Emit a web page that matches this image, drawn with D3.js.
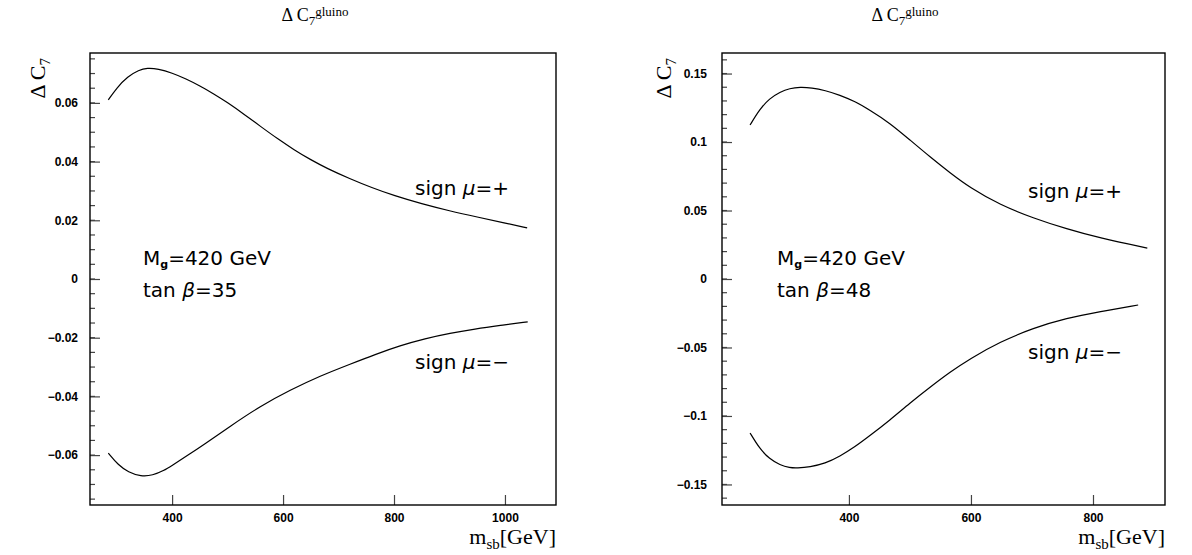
<!DOCTYPE html>
<html><head><meta charset="utf-8">
<script src="https://cdnjs.cloudflare.com/ajax/libs/d3/7.8.5/d3.min.js"></script>
<style>
html,body{margin:0;padding:0;background:#fff;}
svg{display:block;}
.tick text{font-family:"Liberation Sans",Arial,sans-serif;font-weight:bold;font-size:12px;fill:#000;}
</style></head>
<body>
<svg id="chart" width="1192" height="555"></svg>
<script>
// ---- data ----
// Left panel: tan beta = 35
const leftPlusX  = [285, 300, 320, 340, 355, 375, 400, 425, 450, 475, 500, 530, 560, 590, 620, 650, 680, 720, 760, 800, 850, 900, 950, 1000, 1040];
const leftPlusY  = [0.0610, 0.0651, 0.0690, 0.0712, 0.0719, 0.0716, 0.0702, 0.0682, 0.0658, 0.0631, 0.0601, 0.0561, 0.0519, 0.0478, 0.0440, 0.0406, 0.0376, 0.0342, 0.0311, 0.0284, 0.0256, 0.0232, 0.0211, 0.0191, 0.0174];
const leftMinusX = [285, 303, 321, 344, 365, 385, 400, 427, 456, 505, 559, 613, 667, 721, 766, 811, 856, 901, 946, 991, 1041];
const leftMinusY = [-0.0593, -0.0634, -0.0658, -0.0673, -0.0669, -0.0653, -0.0635, -0.0602, -0.0566, -0.0501, -0.0433, -0.0378, -0.0330, -0.0290, -0.0257, -0.0227, -0.0203, -0.0185, -0.0170, -0.0158, -0.0146];
// Right panel: tan beta = 48
const rightPlusX  = [238, 254, 270, 287, 303, 320, 339, 361, 385, 410, 434, 467, 500, 533, 566, 598, 648, 702, 757, 811, 889];
const rightPlusY  = [0.1124, 0.1241, 0.1318, 0.1365, 0.1392, 0.1401, 0.1396, 0.1377, 0.1343, 0.1296, 0.1234, 0.1139, 0.1015, 0.0891, 0.0774, 0.0668, 0.0540, 0.0445, 0.0365, 0.0299, 0.0226];
const rightMinusX = [238, 254, 270, 287, 303, 315, 336, 361, 385, 410, 434, 467, 500, 533, 566, 598, 648, 702, 757, 811, 874];
const rightMinusY = [-0.1124, -0.1241, -0.1314, -0.1358, -0.1378, -0.1380, -0.1372, -0.1347, -0.1295, -0.1225, -0.1145, -0.1031, -0.0906, -0.0790, -0.0679, -0.0583, -0.0458, -0.0358, -0.0285, -0.0239, -0.0190];

const leftXTicks  = [400, 600, 800, 1000];
const leftYTicks  = [-0.06, -0.04, -0.02, 0, 0.02, 0.04, 0.06];
const rightXTicks = [400, 600, 800];
const rightYTicks = [-0.15, -0.1, -0.05, 0, 0.05, 0.1, 0.15];
const leftYLabels  = ["\u22120.06","\u22120.04","\u22120.02","0","0.02","0.04","0.06"];
const rightYLabels = ["\u22120.15","\u22120.1","\u22120.05","0","0.05","0.1","0.15"];

const svg = d3.select("#chart");

function panel(cfg){
  const g = svg.append("g");
  const x = d3.scaleLinear().domain(cfg.xDomain).range([cfg.x0, cfg.x1]);
  const y = d3.scaleLinear().domain(cfg.yDomain).range([cfg.y1, cfg.y0]);

  // minor y ticks
  const minor = d3.range(Math.ceil(cfg.yDomain[0]/cfg.yMinor-1e-9), Math.floor(cfg.yDomain[1]/cfg.yMinor+1e-9)+1).map(k=>k*cfg.yMinor);
  g.append("g").selectAll("line").data(minor).join("line")
    .attr("x1", cfg.x0).attr("x2", cfg.x0+5)
    .attr("y1", d=>y(d)).attr("y2", d=>y(d))
    .attr("stroke","#444").attr("stroke-width",1.2);

  // y axis major
  const ya = g.append("g").attr("transform",`translate(${cfg.x0},0)`)
    .call(d3.axisLeft(y).tickValues(cfg.yTicks).tickSize(-10).tickPadding(cfg.yPad)
      .tickFormat((d,i)=>cfg.yLabels[i]));
  ya.select(".domain").remove();
  ya.selectAll(".tick line").attr("stroke","#444").attr("stroke-width",1.2);

  // x axis major
  const xa = g.append("g").attr("transform",`translate(0,${cfg.y1})`)
    .call(d3.axisBottom(x).tickValues(cfg.xTicks).tickSize(-10).tickPadding(8).tickFormat(d3.format("d")));
  xa.select(".domain").remove();
  xa.selectAll(".tick line").attr("stroke","#444").attr("stroke-width",1.2);

  // frame
  g.append("rect").attr("x",cfg.x0).attr("y",cfg.y0)
    .attr("width",cfg.x1-cfg.x0).attr("height",cfg.y1-cfg.y0)
    .attr("fill","none").attr("stroke","#000").attr("stroke-width",1.4);

  const line = d3.line().x(d=>x(d[0])).y(d=>y(d[1])).curve(d3.curveBasis);
  [[cfg.px,cfg.py],[cfg.mx,cfg.my]].forEach(([xs,ys])=>{
    g.append("path").datum(d3.zip(xs,ys)).attr("d",line)
      .attr("fill","none").attr("stroke","#000").attr("stroke-width",1.2);
  });

  // title
  const t = g.append("text").attr("x",cfg.titleX).attr("y",21).attr("text-anchor","middle")
    .attr("font-family","'Liberation Serif','Times New Roman',serif").attr("font-size",18);
  t.append("tspan").text("\u0394 C");
  t.append("tspan").attr("font-size",13).attr("dy",4).text("7");
  t.append("tspan").attr("font-size",13).attr("dy",-9).text("gluino");

  // y label
  const yl = g.append("text").attr("transform",`translate(${cfg.x0-cfg.ylOff},${cfg.y0+5}) rotate(-90)`)
    .attr("text-anchor","end").attr("font-family","'Liberation Serif','Times New Roman',serif").attr("font-size",22);
  yl.append("tspan").text("\u0394 C");
  yl.append("tspan").attr("font-size",15).attr("dy",5).text("7");

  // x label
  const xl = g.append("text").attr("x",cfg.x1).attr("y",544).attr("text-anchor","end")
    .attr("font-family","'Liberation Serif','Times New Roman',serif").attr("font-size",22);
  xl.append("tspan").text("m");
  xl.append("tspan").attr("font-size",15).attr("dy",5).text("sb");
  xl.append("tspan").attr("dy",-5).text("[GeV]");

  // annotations
  const af = "'DejaVu Sans',sans-serif";
  const a1 = g.append("text").attr("x",cfg.annX).attr("y",265).attr("font-family",af).attr("font-size",20);
  a1.append("tspan").text("M");
  a1.append("tspan").attr("font-size",11).attr("font-weight","bold").attr("dy",3).text("g");
  a1.append("tspan").attr("dy",-3).text("=420 GeV");
  const a2 = g.append("text").attr("x",cfg.annX).attr("y",297).attr("font-family",af).attr("font-size",20);
  a2.append("tspan").text("tan ");
  a2.append("tspan").attr("font-style","italic").text("\u03B2");
  a2.append("tspan").text("="+cfg.tanb);

  const s1 = g.append("text").attr("x",cfg.signX).attr("y",cfg.signPlusY).attr("font-family",af).attr("font-size",20);
  s1.append("tspan").text("sign ");
  s1.append("tspan").attr("font-style","italic").text("\u03BC");
  s1.append("tspan").text("=+");
  const s2 = g.append("text").attr("x",cfg.signX).attr("y",cfg.signMinusY).attr("font-family",af).attr("font-size",20);
  s2.append("tspan").text("sign ");
  s2.append("tspan").attr("font-style","italic").text("\u03BC");
  s2.append("tspan").text("=\u2212");
}

panel({x0:90,x1:556,y0:53,y1:505,xDomain:[252,1092],yDomain:[-0.077,0.077],
  xTicks:leftXTicks,yTicks:leftYTicks,yLabels:leftYLabels,yMinor:0.005,yPad:12,ylOff:45,
  px:leftPlusX,py:leftPlusY,mx:leftMinusX,my:leftMinusY,
  titleX:315,annX:143,tanb:"35",signX:415,signPlusY:195,signMinusY:369});

panel({x0:722,x1:1165,y0:53,y1:505,xDomain:[192,918],yDomain:[-0.165,0.165],
  xTicks:rightXTicks,yTicks:rightYTicks,yLabels:rightYLabels,yMinor:0.01,yPad:15,ylOff:51,
  px:rightPlusX,py:rightPlusY,mx:rightMinusX,my:rightMinusY,
  titleX:905,annX:777,tanb:"48",signX:1028,signPlusY:198,signMinusY:359});
</script>
</body></html>
